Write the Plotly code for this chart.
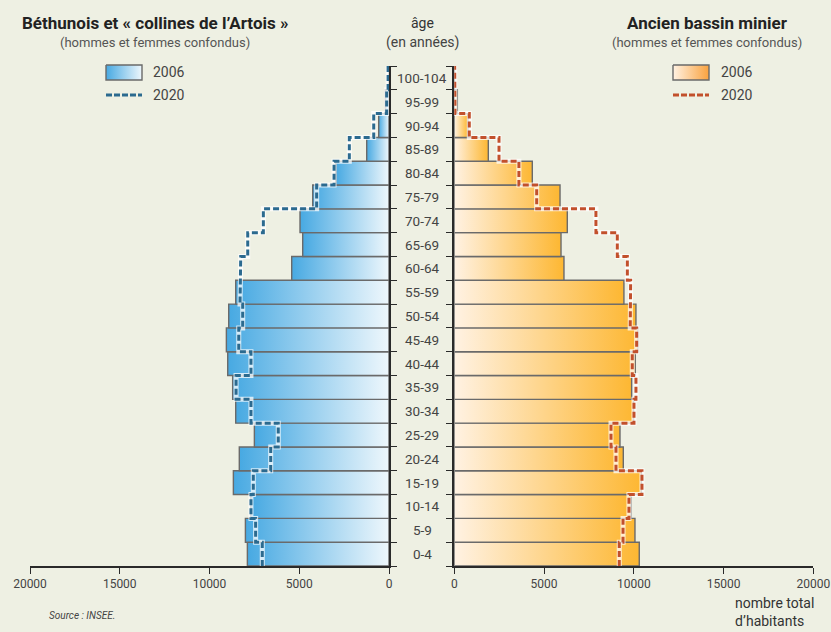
import plotly.graph_objects as go

W, H = 831, 632

ages = ["0-4", "5-9", "10-14", "15-19", "20-24", "25-29", "30-34", "35-39", "40-44",
        "45-49", "50-54", "55-59", "60-64", "65-69", "70-74", "75-79", "80-84",
        "85-89", "90-94", "95-99", "100-104"]

bethune_2006 = [7890, 8000, 7700, 8670, 8340, 7500, 8540, 8710, 8985, 9060, 8930,
                8540, 5420, 4807, 4957, 4250, 2970, 1242, 574, 200, 15]
bethune_2020 = [7060, 7430, 7690, 7560, 6590, 6170, 7690, 8520, 7690, 8370, 8150,
                8300, 8260, 7870, 7000, 4030, 3060, 2210, 850, 130, 50]
bassin_2006 = [10305, 10065, 9840, 10420, 9415, 9230, 9990, 9880, 10080, 10230, 10120,
               9450, 6110, 5945, 6295, 5890, 4345, 1895, 763, 170, 10]
bassin_2020 = [9190, 9400, 9730, 10455, 9007, 8730, 10010, 10120, 9915, 10160, 9800,
               9825, 9640, 9080, 7890, 4590, 3600, 2490, 835, 40, 20]

x_ticks = [0, 5000, 10000, 15000, 20000]

BG = "#eef0e3"
FONT = "Roboto"
BLUE_DARK, BLUE_LIGHT = "#47a9e2", "#eef7fc"
OR_DARK, OR_LIGHT = "#fdb732", "#fff2e3"
BLUE_LINE, OR_LINE = "#2b6a8f", "#c2502c"
OUTLINE = "#6a6a6a"
AX = "#2a2a2a"

fig = go.Figure()


def add_bars(values, xa, ya, light, dark):
    for i, v in enumerate(values):
        fig.add_trace(go.Scatter(
            x=[0, v, v, 0, 0], y=[i, i, i + 1, i + 1, i],
            xaxis=xa, yaxis=ya, mode="lines", fill="toself",
            fillgradient=dict(type="horizontal", start=0, stop=max(v, 1),
                              colorscale=[[0, light], [1, dark]]),
            line=dict(color=OUTLINE, width=1.4),
            hoverinfo="skip", showlegend=False))


def add_steps(values, xa, ya, color):
    xs, ys = [], []
    for i, v in enumerate(values):
        xs += [v, v]
        ys += [i, i + 1]
    fig.add_trace(go.Scatter(x=xs, y=ys, xaxis=xa, yaxis=ya, mode="lines",
                             line=dict(color="rgba(255,255,255,0.75)", width=5),
                             hoverinfo="skip", showlegend=False))
    fig.add_trace(go.Scatter(x=xs, y=ys, xaxis=xa, yaxis=ya, mode="lines",
                             line=dict(color=color, width=3, dash="6px,3px"),
                             hoverinfo="skip", showlegend=False))


add_bars(bethune_2006, "x", "y", BLUE_LIGHT, BLUE_DARK)
add_steps(bethune_2020, "x", "y", BLUE_LINE)
add_bars(bassin_2006, "x2", "y2", OR_LIGHT, OR_DARK)
add_steps(bassin_2020, "x2", "y2", OR_LINE)


# legend swatches on a full-figure pixel overlay
def legend_swatch(x0, x1, c_left, c_right, line_color):
    fig.add_trace(go.Scatter(
        x=[x0, x1, x1, x0, x0], y=[65, 65, 80, 80, 65], xaxis="x3", yaxis="y3",
        mode="lines", fill="toself",
        fillgradient=dict(type="horizontal", start=x0, stop=x1,
                          colorscale=[[0, c_left], [1, c_right]]),
        line=dict(color=OUTLINE, width=1.4), hoverinfo="skip", showlegend=False))
    fig.add_trace(go.Scatter(
        x=[x0, x1], y=[95, 95], xaxis="x3", yaxis="y3", mode="lines",
        line=dict(color=line_color, width=3, dash="6px,2px"),
        hoverinfo="skip", showlegend=False))


legend_swatch(106, 142, BLUE_DARK, BLUE_LIGHT, BLUE_LINE)
legend_swatch(673, 709, OR_LIGHT, "#f9a23e", OR_LINE)

ydom = [(H - 566) / H, (H - 66) / H]
common_x = dict(tickvals=x_ticks, ticktext=[str(t) for t in x_ticks],
                showgrid=False, zeroline=False, showline=True, linecolor=AX,
                linewidth=1.5, ticks="outside", ticklen=6, tickcolor=AX,
                tickwidth=1.3, tickfont=dict(family=FONT, size=12, color="#444"),
                automargin=False)
common_y = dict(range=[0, len(ages)], tickvals=list(range(len(ages) + 1)),
                showticklabels=False, showgrid=False, zeroline=False,
                showline=True, linecolor=AX, linewidth=1.8, ticks="outside",
                ticklen=6, tickcolor=AX, tickwidth=1.3, domain=ydom,
                automargin=False)

fig.update_layout(
    width=W, height=H,
    margin=dict(l=0, r=0, t=0, b=0, pad=0, autoexpand=False),
    paper_bgcolor=BG, plot_bgcolor="rgba(0,0,0,0)",
    font=dict(family=FONT, color="#333"),
    xaxis=dict(range=[20000, 0], domain=[30 / W, 389 / W], anchor="y", **common_x),
    yaxis=dict(anchor="x", side="right", **common_y),
    xaxis2=dict(range=[0, 20000], domain=[454.3 / W, 813.3 / W], anchor="y2", **common_x),
    yaxis2=dict(anchor="x2", side="left", **common_y),
    xaxis3=dict(range=[0, W], domain=[0, 1], visible=False, anchor="y3",
                fixedrange=True, automargin=False),
    yaxis3=dict(range=[H, 0], domain=[0, 1], visible=False, anchor="x3",
                fixedrange=True, automargin=False),
    showlegend=False,
)

ann = []
for i, a in enumerate(ages):
    ann.append(dict(text=a, x=422 / W, xref="paper", y=i + 0.5, yref="y",
                    showarrow=False, font=dict(family=FONT, size=13.5, color="#444"),
                    xanchor="center", yanchor="middle"))


def ptxt(text, x, y, size, color="#333", xanchor="center", bold=False, italic=False,
         yanchor="middle", align="center"):
    if bold:
        text = "<b>" + text + "</b>"
    if italic:
        text = "<i>" + text + "</i>"
    ann.append(dict(text=text, x=x / W, y=1 - y / H, xref="paper", yref="paper",
                    showarrow=False, xanchor=xanchor, yanchor=yanchor, align=align,
                    font=dict(family=FONT, size=size, color=color)))


ptxt("Béthunois et « collines de l’Artois »", 155, 23, 17, "#222", bold=True)
ptxt("(hommes et femmes confondus)", 155, 42, 13, "#555")
ptxt("âge", 422, 23, 14, "#333")
ptxt("(en années)", 422, 42, 14, "#444")
ptxt("Ancien bassin minier", 707, 23, 17, "#222", bold=True)
ptxt("(hommes et femmes confondus)", 707, 42, 13, "#555")
ptxt("2006", 151, 72, 14, "#444", xanchor="left")
ptxt("2020", 151, 95, 14, "#444", xanchor="left")
ptxt("2006", 719, 72, 14, "#444", xanchor="left")
ptxt("2020", 719, 95, 14, "#444", xanchor="left")
ptxt("Source : INSEE.", 47, 615, 10, "#444", xanchor="left", italic=True)
ptxt("nombre total<br>d’habitants", 733, 631, 14, "#333", xanchor="left",
     yanchor="bottom", align="left")

fig.update_layout(annotations=ann)

fig.write_html("out.html",
               config={"displayModeBar": False},
               post_script="document.body.style.margin='0';document.body.style.overflow='hidden';")
